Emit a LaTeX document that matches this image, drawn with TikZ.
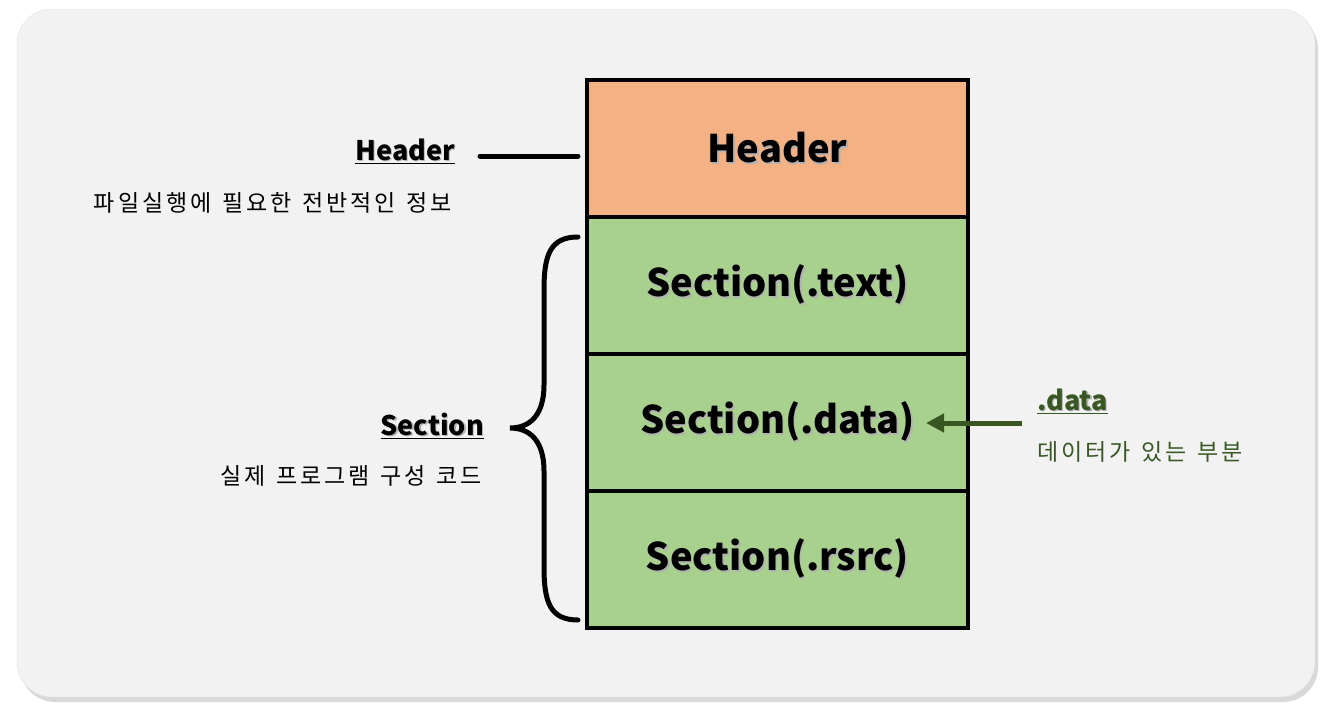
\documentclass[tikz,border=0pt]{standalone}
\usepackage{fontspec}
\setmainfont{Noto Sans CJK KR}
\newfontfamily\krnote[LetterSpace=13, WordSpace=1.3]{Noto Sans CJK KR}
\usepackage{xcolor}
\usetikzlibrary{positioning, arrows.meta, shadows}
\definecolor{panelgray}{HTML}{F2F2F2}
\definecolor{hdrorange}{HTML}{F4B183}
\definecolor{secgreen}{HTML}{A9D18E}
\definecolor{datagreen}{HTML}{385723}
\newcommand{\shtxt}[1]{\makebox[0pt][l]{\hspace{1.5pt}\raisebox{-1.5pt}{\textcolor{black!30}{#1}}}#1}

\begin{document}
\begin{tikzpicture}[x=1pt, y=-1pt,
  layer/.style={draw=black, line width=4.5pt, outer sep=0pt,
    minimum width=381pt, minimum height=137pt,
    font=\bfseries\fontsize{38}{44}\selectfont},
  title/.style={font=\bfseries\fontsize{27}{30}\selectfont, inner sep=0pt},
  note/.style={font=\krnote\fontsize{23}{26}\selectfont, inner sep=0pt}]
  \useasboundingbox (0,0) rectangle (1326,717);
  \fill[panelgray, draw=black!12, rounded corners=35pt,
        drop shadow={opacity=0.3, shadow xshift=3pt, shadow yshift=-5pt}]
    (17,9) rectangle (1315,697);

  % layout of the file
  \node[layer, fill=hdrorange, anchor=north west] (hdr) at (587,80) {\shtxt{Header}};
  \node[layer, fill=secgreen, below=0pt of hdr] (sectext) {\shtxt{Section(.text)}};
  \node[layer, fill=secgreen, below=0pt of sectext] (secdata) {\shtxt{Section(.data)}};
  \node[layer, fill=secgreen, below=0pt of secdata] (secrsrc) {\shtxt{Section(.rsrc)}};

  % header note
  \node[title, anchor=base east] (hdrlabel) at (455,160) {\underline{\shtxt{Header}}};
  \node[note, anchor=east] (hdrdesc) at (452,203) {파일실행에 필요한 전반적인 정보};
  \coordinate (hdrtick) at (480,156);
  \coordinate (hdrend) at (578,156);
  \draw[line width=5pt, line cap=round] (hdrtick) -- (hdrend);

  % section note
  \node[title, anchor=base east] (seclabel) at (484,435) {\underline{\shtxt{Section}}};
  \node[note, anchor=east] (secdesc) at (482,476) {실제 프로그램 구성 코드};
  \coordinate (bracetop) at (578,237);
  \coordinate (bracetip) at (510,428);
  \coordinate (bracebot) at (578,620);
  \draw[line width=5pt, line cap=round] (bracetop)
    .. controls (550,237) and (544,255) .. (544,290) -- (544,385)
    .. controls (544,415) and (530,428) .. (bracetip)
    .. controls (530,428) and (544,441) .. (544,471) -- (544,567)
    .. controls (544,602) and (550,620) .. (bracebot);

  % data note
  \node[title, anchor=base west, text=datagreen] (datalabel) at (1037,410) {\underline{\shtxt{.data}}};
  \node[note, anchor=west, text=datagreen] (datadesc) at (1037,452) {데이터가 있는 부분};
  \coordinate (datatail) at (1022,423);
  \coordinate (datatip) at (926,423);
  \draw[datagreen, line width=5pt, -{Triangle[length=18pt,width=18pt]}] (datatail) -- (datatip);
\end{tikzpicture}
\end{document}
